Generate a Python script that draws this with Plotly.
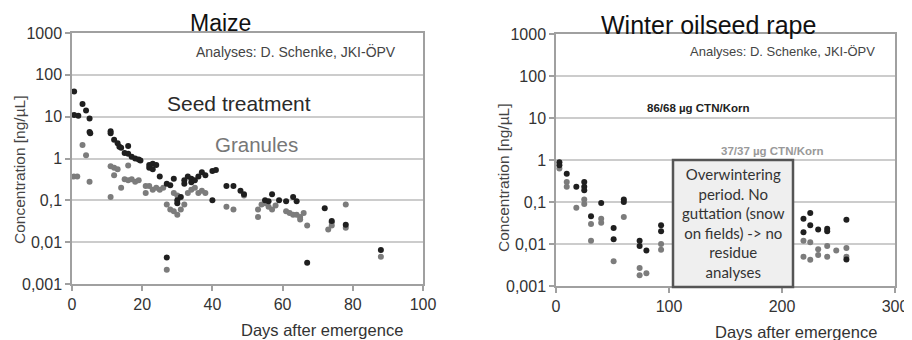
import plotly.graph_objects as go

W, H = 912, 340
OFF = 8  # page body margin offset

# ---------------- data ----------------
maize_seed_days = [0.6, 0.6, 1.8, 3, 4, 5, 5, 5.2, 11, 11, 12, 13, 13.5, 14, 15, 16, 16, 17, 18, 19, 19.5,
                   22, 22, 23, 23, 24, 25, 27, 28, 29, 30, 30, 31, 32, 32, 33, 34, 34, 35, 36, 37, 38,
                   40, 40, 41, 44, 46, 48, 49, 55, 56, 57, 59, 61, 63, 64, 67, 72, 74, 78, 88, 27]
maize_seed_vals = [40, 11, 10.5, 20, 14, 9, 4.3, 4.0, 4.5, 4.0, 2.8, 2.3, 1.9, 1.8, 1.35, 2.0, 1.3, 1.1, 1.0, 0.95, 0.9,
                   0.7, 0.6, 0.75, 0.55, 0.7, 0.37, 0.25, 0.23, 0.33, 0.085, 0.1, 0.12, 0.3, 0.25, 0.37, 0.33, 0.27, 0.3, 0.37, 0.47, 0.4,
                   0.1, 0.5, 0.53, 0.22, 0.22, 0.17, 0.14, 0.1, 0.095, 0.14, 0.1, 0.095, 0.12, 0.095, 0.0032, 0.065, 0.032, 0.026, 0.0065, 0.0043]

maize_gran_days = [0.5, 1.5, 3, 4, 5, 11, 11, 12, 13, 12, 14, 15, 16, 16, 17, 18, 19,
                   21, 21, 22, 23, 24, 25, 26, 27, 28, 29, 30, 31, 29, 30, 32, 33, 34, 35, 36, 37, 38,
                   27, 44, 46, 49, 53, 53, 54, 55, 56, 57, 58, 61, 62, 63, 64, 65, 65, 66, 67,
                   73, 74, 74, 78, 78, 88]
maize_gran_vals = [0.37, 0.37, 2.1, 1.2, 0.28, 0.12, 0.65, 0.6, 0.55, 0.4, 0.2, 0.32, 0.3, 0.68, 0.32, 0.28, 0.3,
                   0.22, 0.15, 0.22, 0.18, 0.2, 0.18, 0.2, 0.08, 0.06, 0.055, 0.045, 0.06, 0.15, 0.13, 0.08, 0.15, 0.18, 0.2, 0.15, 0.17, 0.15,
                   0.0022, 0.07, 0.06, 0.13, 0.06, 0.04, 0.08, 0.085, 0.07, 0.06, 0.075, 0.055, 0.05, 0.045, 0.045, 0.04, 0.035, 0.05, 0.025,
                   0.02, 0.025, 0.03, 0.022, 0.08, 0.0045]

rape_high_days = [3, 3, 9.5, 18, 25, 25, 25, 31, 40, 51, 51, 60, 60, 74, 74, 80, 93, 93,
                  219, 219, 225, 225, 232, 240, 240, 257, 257]
rape_high_vals = [0.88, 0.75, 0.47, 0.23, 0.3, 0.23, 0.19, 0.046, 0.095, 0.024, 0.013, 0.115, 0.1, 0.012, 0.009, 0.007, 0.028, 0.02,
                  0.04, 0.019, 0.055, 0.028, 0.022, 0.023, 0.02, 0.038, 0.0043]

rape_low_days = [3, 9.5, 9.5, 18, 25, 25, 31, 40, 40, 31, 51, 60, 74, 74, 80, 93, 93,
                 219, 219, 225, 225, 232, 232, 240, 240, 248, 257, 257]
rape_low_vals = [0.63, 0.3, 0.23, 0.073, 0.115, 0.09, 0.03, 0.04, 0.032, 0.012, 0.0039, 0.044, 0.0027, 0.0018, 0.002, 0.01, 0.0073,
                 0.012, 0.005, 0.011, 0.0042, 0.0075, 0.0055, 0.009, 0.005, 0.007, 0.008, 0.005]

y_tickvals = [0.001, 0.01, 0.1, 1, 10, 100, 1000]
y_ticktext = ["0,001", "0,01", "0,1", "1", "10", "100", "1000"]
maize_xticks = [0, 20, 40, 60, 80, 100]
rape_xticks = [0, 100, 200, 300]

DARK = "#1f1f1f"
GRAY = "#7c7c7c"
FONT = "Liberation Sans, Arial, sans-serif"


def px(x):
    return (x - OFF) / W


def py(y):
    return 1 - (y - OFF) / H


fig = go.Figure()
mk = dict(size=6, line=dict(width=0))
fig.add_trace(go.Scatter(x=maize_gran_days, y=maize_gran_vals, mode="markers",
                         marker=dict(color=GRAY, **mk), xaxis="x", yaxis="y", showlegend=False))
fig.add_trace(go.Scatter(x=maize_seed_days, y=maize_seed_vals, mode="markers",
                         marker=dict(color=DARK, **mk), xaxis="x", yaxis="y", showlegend=False))
fig.add_trace(go.Scatter(x=rape_low_days, y=rape_low_vals, mode="markers",
                         marker=dict(color=GRAY, **mk), xaxis="x2", yaxis="y2", showlegend=False))
fig.add_trace(go.Scatter(x=rape_high_days, y=rape_high_vals, mode="markers",
                         marker=dict(color=DARK, **mk), xaxis="x2", yaxis="y2", showlegend=False))

axcommon = dict(showline=True, linecolor="#a0a0a0", linewidth=1.5, mirror=True,
                ticks="outside", ticklen=5, tickcolor="#a0a0a0", tickwidth=1.5, automargin=False,
                tickfont=dict(family=FONT, size=16, color="#333333"), zeroline=False)

yax = dict(type="log", range=[-3, 3], tickvals=y_tickvals, ticktext=y_ticktext,
           showgrid=True, gridcolor="#cccccc", gridwidth=1.5, **axcommon)

fig.update_layout(
    width=W, height=H, margin=dict(l=0, r=0, t=0, b=0, autoexpand=False),
    paper_bgcolor="white", plot_bgcolor="white",
    xaxis=dict(domain=[px(72), px(423)], range=[0, 100], tickvals=maize_xticks,
               showgrid=False, anchor="y", **axcommon),
    yaxis=dict(domain=[py(284), py(33)], anchor="x", **yax),
    xaxis2=dict(domain=[px(556), px(895)], range=[0, 300], tickvals=rape_xticks,
                showgrid=False, anchor="y2", **axcommon),
    yaxis2=dict(domain=[py(286), py(34)], anchor="x2", **yax),
)


def ann(text, x, y, size, color="#222222", family=FONT, angle=0, **kw):
    fig.add_annotation(text=text, x=px(x), y=py(y), xref="paper", yref="paper",
                       showarrow=False, xanchor="center", yanchor="middle",
                       font=dict(family=family, size=size, color=color), textangle=angle, **kw)


ann("Maize", 220, 23, 23, "#111111")
ann("Winter oilseed rape", 708, 24.5, 25, "#111111")
ann("Analyses: D. Schenke, JKI-ÖPV", 296, 52, 14, "#444444")
ann("Analyses: D. Schenke, JKI-ÖPV", 782, 52, 13, "#444444")
ann("Seed treatment", 239, 103, 21, "#2a2a2a")
ann("Granules", 256, 144, 20.5, "#777777")
ann("<b>86/68 µg CTN/Korn</b>", 698, 108, 11.5, "#222222")
ann("<b>37/37 µg CTN/Korn</b>", 772, 151, 11.5, "#999999")
ann("Concentration [ng/µL]", 19, 170, 15.5, "#444444", angle=-90)
ann("Concentration [ng/µL]", 503, 178, 15.5, "#444444", angle=-90)
ann("Days after emergence", 322, 330, 16.5, "#333333")
ann("Days after emergence", 796, 332, 16.5, "#333333")

fig.add_shape(type="rect", xref="paper", yref="paper",
              x0=px(673), x1=px(793), y0=py(287), y1=py(160),
              line=dict(color="#555555", width=2.5), fillcolor="#efefef", layer="above")
ann("Overwintering<br>period. No<br>guttation (snow<br>on fields) -> no<br>residue<br>analyses",
    733, 223, 15, "#333333", family="Lato, Noto Sans, sans-serif")

fig.write_html("out.html")
